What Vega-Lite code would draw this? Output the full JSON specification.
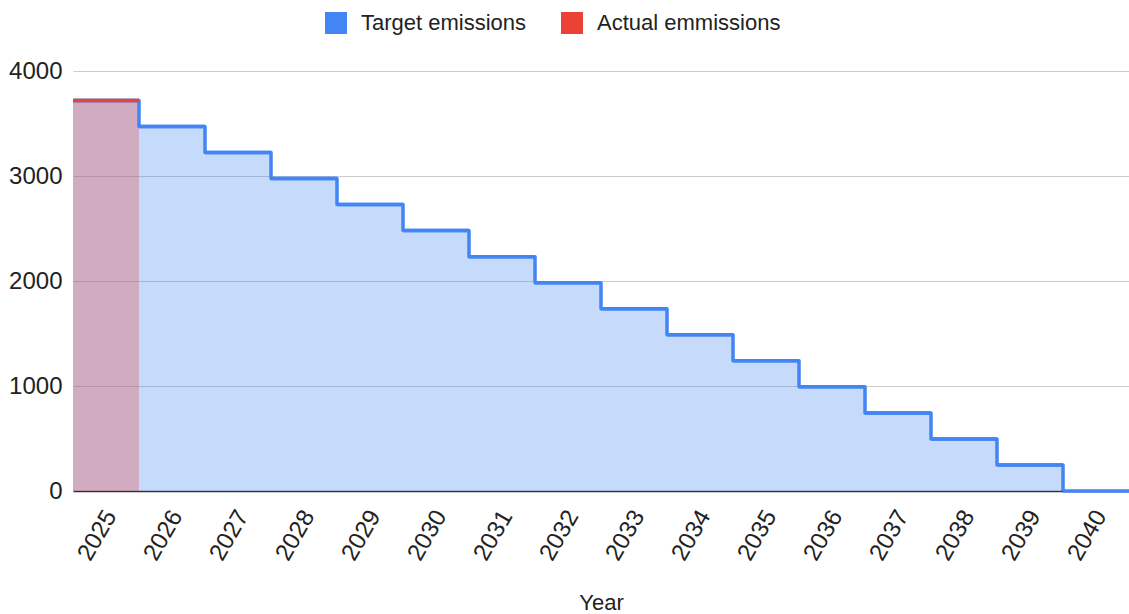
{
  "$schema": "https://vega.github.io/schema/vega-lite/v6.json",
  "width": 1056,
  "height": 420,
  "autosize": "none",
  "padding": {"left": 73, "top": 71, "right": 0, "bottom": 123},
  "background": "white",
  "config": {
    "view": {"stroke": null},
    "font": "Liberation Sans",
    "axis": {"labelFont": "Liberation Sans", "titleFont": "Liberation Sans", "labelColor": "#222222", "titleColor": "#222222"},
    "legend": {"labelFont": "Liberation Sans", "labelColor": "#222222"}
  },
  "data": {
    "values": [
      {"Year": "2025", "Series": "Target emissions", "Value": 3720},
      {"Year": "2026", "Series": "Target emissions", "Value": 3472},
      {"Year": "2027", "Series": "Target emissions", "Value": 3224},
      {"Year": "2028", "Series": "Target emissions", "Value": 2976},
      {"Year": "2029", "Series": "Target emissions", "Value": 2728},
      {"Year": "2030", "Series": "Target emissions", "Value": 2480},
      {"Year": "2031", "Series": "Target emissions", "Value": 2232},
      {"Year": "2032", "Series": "Target emissions", "Value": 1984},
      {"Year": "2033", "Series": "Target emissions", "Value": 1736},
      {"Year": "2034", "Series": "Target emissions", "Value": 1488},
      {"Year": "2035", "Series": "Target emissions", "Value": 1240},
      {"Year": "2036", "Series": "Target emissions", "Value": 992},
      {"Year": "2037", "Series": "Target emissions", "Value": 744},
      {"Year": "2038", "Series": "Target emissions", "Value": 496},
      {"Year": "2039", "Series": "Target emissions", "Value": 248},
      {"Year": "2040", "Series": "Target emissions", "Value": 0},
      {"Year": "2025", "Series": "Actual emmissions", "Value": 3720}
    ]
  },
  "encoding": {
    "x": {
      "field": "Year",
      "type": "ordinal",
      "scale": {"type": "band", "paddingInner": 0, "paddingOuter": 0},
      "axis": {
        "labelAngle": -60,
        "labelFontSize": 24,
        "labelPadding": 21,
        "labelOffset": 5,
        "ticks": false,
        "grid": false,
        "domainColor": "#333333",
        "domainWidth": 1.5,
        "title": "Year",
        "titleFontSize": 22,
        "titleFontWeight": "normal",
        "titlePadding": 28
      }
    },
    "y": {
      "field": "Value",
      "type": "quantitative",
      "scale": {"domain": [0, 4000], "nice": false},
      "axis": {
        "values": [0, 1000, 2000, 3000, 4000],
        "format": "d",
        "title": null,
        "domain": false,
        "ticks": false,
        "gridColor": "#cccccc",
        "gridWidth": 1,
        "labelFontSize": 24,
        "labelPadding": 11
      }
    }
  },
  "layer": [
    {
      "transform": [{"filter": "datum.Series === 'Target emissions'"}],
      "mark": {"type": "area", "interpolate": "step-after", "color": "#4285f4", "opacity": 0.3},
      "encoding": {"x": {"field": "Year", "type": "ordinal", "bandPosition": 0}}
    },
    {
      "transform": [{"filter": "datum.Series === 'Actual emmissions'"}],
      "mark": {"type": "bar", "color": "#ea4335", "opacity": 0.3}
    },
    {
      "transform": [{"filter": "datum.Series === 'Target emissions'"}],
      "mark": {"type": "line", "interpolate": "step-after", "color": "#4285f4", "strokeWidth": 3.5, "strokeJoin": "round"},
      "encoding": {"x": {"field": "Year", "type": "ordinal", "bandPosition": 0}}
    },
    {
      "mark": {"type": "tick", "size": 66, "thickness": 3.5, "opacity": 1},
      "encoding": {
        "color": {
          "field": "Series",
          "type": "nominal",
          "scale": {"domain": ["Target emissions", "Actual emmissions"], "range": ["#4285f4", "#ea4335"]},
          "legend": {
            "title": null,
            "orient": "none",
            "legendX": 252,
            "legendY": -59,
            "direction": "horizontal",
            "symbolType": "square",
            "symbolSize": 484,
            "symbolStrokeWidth": 0,
            "symbolOpacity": 1,
            "labelFontSize": 22,
            "labelLimit": 0,
            "labelOffset": 14,
            "columnPadding": 34
          }
        }
      }
    }
  ]
}
